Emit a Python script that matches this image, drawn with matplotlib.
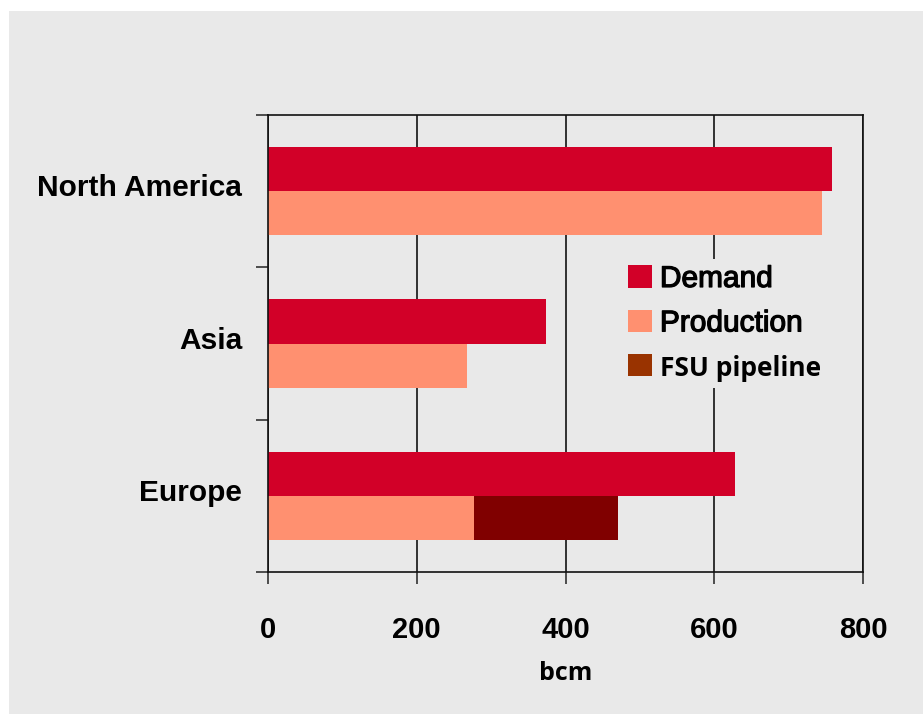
import matplotlib
matplotlib.use("Agg")
import matplotlib.pyplot as plt
import matplotlib.patheffects as pe
from matplotlib.patches import Patch, Rectangle
from matplotlib.transforms import ScaledTranslation

regions = ["Europe", "Asia", "North America"]
demand = [628, 374, 758]
production = [277, 267, 745]
fsu_pipeline = [193, 0, 0]
xticks = [0, 200, 400, 600, 800]

c_demand = "#D20028"
c_prod = "#FF9070"
c_fsu_bar = "#800000"
c_fsu_leg = "#993300"
bg = "#E9E9E9"

fig = plt.figure(figsize=(9.23, 7.14), dpi=100, facecolor="white")
fig.patches.append(Rectangle((9/923, 0), 1 - 9/923, (714-11)/714,
                             transform=fig.transFigure, facecolor=bg,
                             edgecolor="none", zorder=-10))
ax = fig.add_axes([268/923, (714-572)/714, (863-268)/923, (572-115)/714])
ax.set_facecolor(bg)

h = 0.289
pos = [i + 0.5 for i in range(len(regions))]
ax.barh(pos, demand, height=h, align="edge", color=c_demand, zorder=2)
ax.barh([p - h for p in pos], production, height=h, align="edge",
        color=c_prod, zorder=2)
ax.barh([p - h for p in pos], fsu_pipeline, left=production, height=h,
        align="edge", color=c_fsu_bar, zorder=2)

ax.set_xlim(0, 800)
ax.set_ylim(0, 3)
ax.set_xticks(xticks)
ax.set_xticklabels([str(v) for v in xticks], fontfamily="Liberation Sans",
                   fontweight="bold", fontsize=21)
ax.tick_params(axis="x", direction="out", length=8.6, width=1.1, pad=23,
               color="#222222")
ax.set_yticks([0, 1, 2, 3])
ax.set_yticklabels([])
ax.tick_params(axis="y", which="major", direction="out", length=8.6, width=1.1,
               color="#222222")
ax.set_yticks(pos, minor=True)
ax.set_yticklabels(regions, minor=True, fontfamily="Liberation Sans",
                   fontweight="bold", fontsize=21.5)
ax.tick_params(axis="y", which="minor", length=0, pad=18.7)
shift = ScaledTranslation(0, 6/100, fig.dpi_scale_trans)
for lab in ax.get_yticklabels(minor=True):
    lab.set_transform(lab.get_transform() + shift)

ax.grid(axis="x", color="black", linewidth=1.1, zorder=1)
ax.set_axisbelow(True)
for s in ax.spines.values():
    s.set_linewidth(1.2)
    s.set_color("#111111")

ax.set_xlabel("bcm", fontfamily="Open Sans", fontweight="bold", fontsize=18,
              labelpad=12)

handles = [Patch(facecolor=c_demand), Patch(facecolor=c_prod),
           Patch(facecolor=c_fsu_leg)]
labels = ["Demand", "Production", "FSU pipeline"]
leg = ax.legend(handles, labels, loc="upper left",
                bbox_to_anchor=(622/923, (714-259)/714),
                bbox_transform=fig.transFigure,
                prop={"family": "Liberation Sans", "size": 21.5},
                frameon=True, facecolor=bg, edgecolor="none", framealpha=1,
                handlelength=0.79, handleheight=0.79, handletextpad=0.28,
                labelspacing=0.55, borderpad=0.2, borderaxespad=0)
leg.set_zorder(5)
texts = leg.get_texts()
for t in texts[:2]:
    t.set_path_effects([pe.withStroke(linewidth=0.9, foreground="black")])
texts[2].set_fontfamily("Open Sans")
texts[2].set_fontweight("bold")
texts[2].set_fontsize(19)

fig.savefig("out.png", dpi=100, facecolor="white")
